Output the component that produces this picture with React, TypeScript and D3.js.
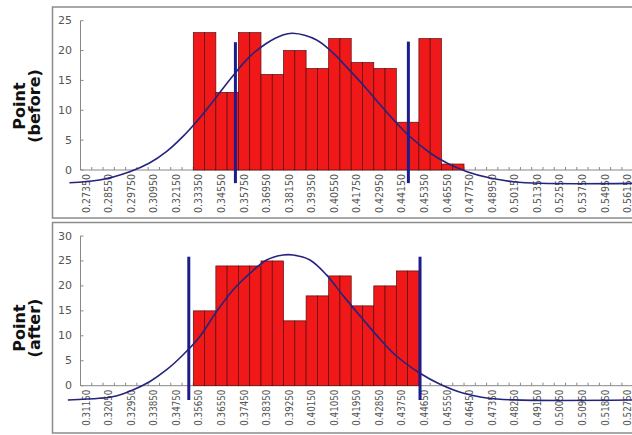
import React from "react";
import * as d3 from "d3";

// ---------- data ----------
const topLabels = ["0.27350","0.28550","0.29750","0.30950","0.32150","0.33350","0.34550","0.35750","0.36950","0.38150","0.39350","0.40550","0.41750","0.42950","0.44150","0.45350","0.46550","0.47750","0.48950","0.50150","0.51350","0.52550","0.53750","0.54950","0.56150"];
const topCounts = [0,0,0,0,0,23,13,23,16,20,17,22,18,17,8,22,1,0,0,0,0,0,0,0,0];
const topCurve: [number, number][] = [
  [0.2646,-2.13],[0.2806,-1.68],[0.2967,-0.28],[0.3072,1.17],[0.3162,3.07],[0.3249,5.58],
  [0.3339,8.71],[0.3429,12.28],[0.3515,15.75],[0.3605,18.98],[0.3695,21.22],[0.3781,22.6],
  [0.3834,22.9],[0.3961,21.78],[0.4048,19.6],[0.4139,16.6],[0.4210,14.2],[0.4325,10.0],
  [0.4447,5.9],[0.4565,2.85],[0.4654,1.17],[0.4761,-0.28],[0.4884,-1.34],[0.5007,-1.96],
  [0.5151,-2.23],[0.5660,-2.23]
];
const topLimits: [number, number, number][] = [[0.3529,-2.2,21.4],[0.4449,-2.2,21.5]];
const topTicks = [0,5,10,15,20,25];

const bottomLabels = ["0.31150","0.32050","0.32950","0.33850","0.34750","0.35650","0.36550","0.37450","0.38350","0.39250","0.40150","0.41050","0.41950","0.42850","0.43750","0.44650","0.45550","0.46450","0.47350","0.48250","0.49150","0.50050","0.50950","0.51850","0.52750"];
const bottomCounts = [0,0,0,0,0,15,24,24,25,13,18,22,16,20,23,0,0,0,0,0,0,0,0,0,0];
const bottomCurve: [number, number][] = [
  [0.3042,-2.87],[0.3168,-2.53],[0.3235,-2.06],[0.3301,-0.86],[0.3368,0.8],[0.3435,3.15],
  [0.3501,6.15],[0.3568,9.82],[0.3635,14.83],[0.3701,19.18],[0.3768,22.5],[0.3835,25.2],
  [0.3901,26.2],[0.3941,26.2],[0.4008,25.2],[0.4074,22.2],[0.4141,18.0],[0.4221,13.2],
  [0.4288,9.3],[0.4354,5.9],[0.4447,2.5],[0.4527,0.3],[0.4621,-1.52],
  [0.4713,-2.45],[0.4821,-2.85],[0.5310,-2.87]
];
const bottomLimits: [number, number, number][] = [[0.35245,-2.87,25.85],[0.4447,-2.87,25.85]];
const bottomTicks = [0,5,10,15,20,25,30];

const FONT = "'DejaVu Sans', Verdana, sans-serif";

type PanelProps = {
  labels: string[]; counts: number[]; curve: [number, number][]; limits: [number, number, number][];
  ticks: number[]; boxTop: number; boxBottom: number; yZero: number; yTopPx: number;
  title1: string; title2: string; titleY: number; labelLen: number;
};

function Panel(p: PanelProps) {
  const band = d3.scaleBand<string>().domain(p.labels).range([80.5, 644.5]).padding(0);
  const bw = band.bandwidth();
  const vx = d3.scaleLinear()
    .domain([+p.labels[0], +p.labels[1]])
    .range([(band(p.labels[0]) as number) + bw / 4, (band(p.labels[1]) as number) + bw / 4]);
  const yMax = p.ticks[p.ticks.length - 1];
  const y = d3.scaleLinear().domain([0, yMax]).range([p.yZero, p.yTopPx]);
  const line = d3.line<[number, number]>().x(d => vx(d[0])).y(d => y(d[1])).curve(d3.curveCatmullRom.alpha(0.5));
  const subTicks: number[] = [];
  p.labels.forEach(l => { const b = band(l) as number; subTicks.push(b, b + bw / 2); });
  return (
    <g>
      <rect x={52.5} y={p.boxTop} width={640} height={p.boxBottom - p.boxTop} fill="#fff" stroke="#8c8c8c" strokeWidth={1.5} />
      {/* y axis */}
      <line x1={80.5} x2={80.5} y1={y(yMax)} y2={y(0)} stroke="#888" strokeWidth={1} />
      {p.ticks.map(t => (
        <g key={t}>
          <line x1={80.5} x2={83.5} y1={y(t)} y2={y(t)} stroke="#888" />
          <text x={72} y={y(t)} textAnchor="end" dominantBaseline="central" fontSize={11} fill="#555" fontFamily={FONT}>{t}</text>
        </g>
      ))}
      {/* x axis */}
      <line x1={80.5} x2={644.5} y1={y(0)} y2={y(0)} stroke="#888" strokeWidth={1} />
      {subTicks.map((t, i) => (
        <line key={i} x1={t} x2={t} y1={y(0)} y2={y(0) - 3} stroke="#888" />
      ))}
      {p.labels.map(l => {
        const x = (band(l) as number) + bw / 4;
        return (
          <text key={l} transform={`translate(${x},${y(0) + 4}) rotate(-90)`} textAnchor="end" dominantBaseline="central"
            fontSize={10} fill="#555" fontFamily={FONT} textLength={p.labelLen} lengthAdjust="spacingAndGlyphs">{l}</text>
        );
      })}
      {/* bars */}
      {p.counts.map((c, i) => c > 0 ? [0, 1].map(h => (
        <rect key={`${i}-${h}`} x={(band(p.labels[i]) as number) + h * bw / 2} y={y(c)} width={bw / 2} height={y(0) - y(c)}
          fill="#f01818" stroke="#5a0c0c" strokeWidth={0.7} />
      )) : null)}
      {/* fitted curve */}
      <path d={line(p.curve) || ""} fill="none" stroke="#24247e" strokeWidth={1.6} />
      {/* limit lines */}
      {p.limits.map((l, i) => (
        <line key={i} x1={vx(l[0])} x2={vx(l[0])} y1={y(l[1])} y2={y(l[2])} stroke="#1c1c8c" strokeWidth={3} />
      ))}
      {/* axis title */}
      <text transform={`translate(25,${p.titleY}) rotate(-90)`} textAnchor="middle" fontSize={16} fontWeight="bold" fontFamily={FONT} fill="#111">{p.title1}</text>
      <text transform={`translate(39.5,${p.titleY}) rotate(-90)`} textAnchor="middle" fontSize={16} fontWeight="bold" fontFamily={FONT} fill="#111">{p.title2}</text>
    </g>
  );
}

export default function App() {
  return (
    <svg width={632} height={435} style={{ position: "absolute", left: 0, top: 0, background: "#fff" }}>
      <rect width={632} height={435} fill="#fff" />
      <Panel labels={topLabels} counts={topCounts} curve={topCurve} limits={topLimits} ticks={topTicks}
        boxTop={7} boxBottom={218} yZero={170} yTopPx={20.7} title1="Point" title2="(before)" titleY={106} labelLen={39} />
      <Panel labels={bottomLabels} counts={bottomCounts} curve={bottomCurve} limits={bottomLimits} ticks={bottomTicks}
        boxTop={222.5} boxBottom={433} yZero={385.7} yTopPx={236} title1="Point" title2="(after)" titleY={328} labelLen={36} />
    </svg>
  );
}
